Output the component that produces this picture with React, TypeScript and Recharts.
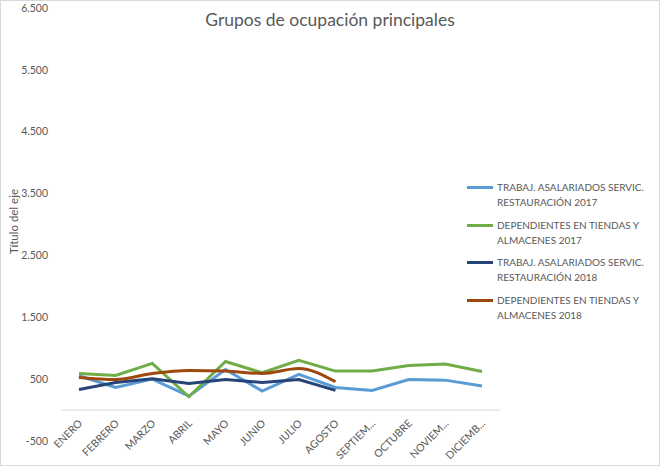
import React from 'react';
import { LineChart, Line, XAxis, YAxis, ReferenceLine, Legend } from 'recharts';

// categorías (etiquetas tal como las recorta Excel)
const months = ['ENERO', 'FEBRERO', 'MARZO', 'ABRIL', 'MAYO', 'JUNIO', 'JULIO', 'AGOSTO', 'SEPTIEM...', 'OCTUBRE', 'NOVIEM...', 'DICIEMB...'];

const trabajadores2017 = [555, 366, 500, 226, 657, 307, 576, 366, 318, 495, 484, 388];
const dependientes2017 = [593, 560, 754, 215, 786, 603, 803, 630, 630, 722, 743, 625];
const trabajadores2018 = [334, 447, 506, 431, 495, 447, 495, 318];
const dependientes2018 = [528, 495, 593, 641, 630, 593, 673, 458];

const yTicks = [-500, 500, 1500, 2500, 3500, 4500, 5500, 6500];

const series = [
  { key: 't17', color: '#5B9BD5', lines: ['TRABAJ. ASALARIADOS SERVIC.', 'RESTAURACIÓN 2017'], smooth: false },
  { key: 'd17', color: '#70AD47', lines: ['DEPENDIENTES EN TIENDAS Y', 'ALMACENES 2017'], smooth: false },
  { key: 't18', color: '#264478', lines: ['TRABAJ. ASALARIADOS SERVIC.', 'RESTAURACIÓN 2018'], smooth: false },
  { key: 'd18', color: '#9E480E', lines: ['DEPENDIENTES EN TIENDAS Y', 'ALMACENES 2018'], smooth: true },
];

const data = months.map((m, i) => ({
  month: m,
  t17: trabajadores2017[i] ?? null,
  d17: dependientes2017[i] ?? null,
  t18: trabajadores2018[i] ?? null,
  d18: dependientes2018[i] ?? null,
}));

const FONT = 'Lato, "Open Sans", sans-serif';
const GREY = '#595959';

const fmt = (v: number) => {
  const s = String(Math.abs(v));
  const g = s.length > 3 ? s.slice(0, -3) + '.' + s.slice(-3) : s;
  return (v < 0 ? '-' : '') + g;
};

const MonthTick = (props: any) => {
  const { x, y, payload } = props;
  return (
    <g transform={`translate(${x + 4},${y - 17})`}>
      <text textAnchor="end" transform="rotate(-45)" fill={GREY} fontSize={10.5} fontFamily={FONT}>
        {payload.value}
      </text>
    </g>
  );
};

const renderLegend = () => (
  <div style={{ fontFamily: FONT, fontSize: 10, color: GREY, whiteSpace: 'nowrap' }}>
    {series.map((s) => (
      <div key={s.key} style={{ display: 'flex', alignItems: 'flex-start', height: 37.5 }}>
        <span style={{ display: 'inline-block', flexShrink: 0, width: 26, height: 3, background: s.color, marginTop: 6, marginRight: 4 }} />
        <div style={{ lineHeight: '15px' }}>
          {s.lines.map((l) => (
            <div key={l}>{l}</div>
          ))}
        </div>
      </div>
    ))}
  </div>
);

export default function App() {
  return (
    <div style={{ position: 'absolute', left: 0, top: 0, width: 660, height: 466, background: '#fff' }}>
      <div
        style={{
          position: 'absolute', top: 9, left: 0, width: 660, textAlign: 'center',
          fontFamily: FONT, fontSize: 17.5, color: GREY,
        }}
      >
        Grupos de ocupación principales
      </div>
      <LineChart width={660} height={466} data={data} margin={{ top: 8, right: 0, bottom: 0, left: 0 }}>
        <XAxis
          dataKey="month"
          height={25}
          interval={0}
          padding={{ left: 18, right: 18 }}
          tickLine={false}
          axisLine={false}
          tickSize={0}
          tickMargin={0}
          tick={<MonthTick />}
        />
        <YAxis
          width={61}
          domain={[-500, 6500]}
          ticks={yTicks}
          tickLine={false}
          axisLine={false}
          tickSize={0}
          tickMargin={13}
          tickFormatter={fmt}
          tick={{ fill: GREY, fontSize: 10.5, fontFamily: FONT }}
          label={{
            content: (p: any) => {
              const vb = p.viewBox;
              const cx = 13;
              const cy = vb.y + vb.height / 2 - 3;
              return (
                <text x={cx} y={cy} transform={`rotate(-90, ${cx}, ${cy})`} textAnchor="middle" dominantBaseline="central" fill={GREY} fontSize={11.5} fontFamily={FONT}>
                  Título del eje
                </text>
              );
            },
          }}
        />
        <ReferenceLine y={0} stroke="#D9D9D9" strokeWidth={1} />
        <Legend layout="vertical" align="right" verticalAlign="top" content={renderLegend} wrapperStyle={{ left: 467, top: 180, width: 160 }} />
        {series.map((s) => (
          <Line
            key={s.key}
            dataKey={s.key}
            name={s.lines.join(' ')}
            type={s.smooth ? 'monotone' : 'linear'}
            stroke={s.color}
            strokeWidth={3}
            dot={false}
            activeDot={false}
            isAnimationActive={false}
          />
        ))}
      </LineChart>
      <div style={{ position: 'absolute', left: 0, top: 0, width: 658, height: 464, border: '1px solid #D9D9D9', pointerEvents: 'none' }} />
    </div>
  );
}
